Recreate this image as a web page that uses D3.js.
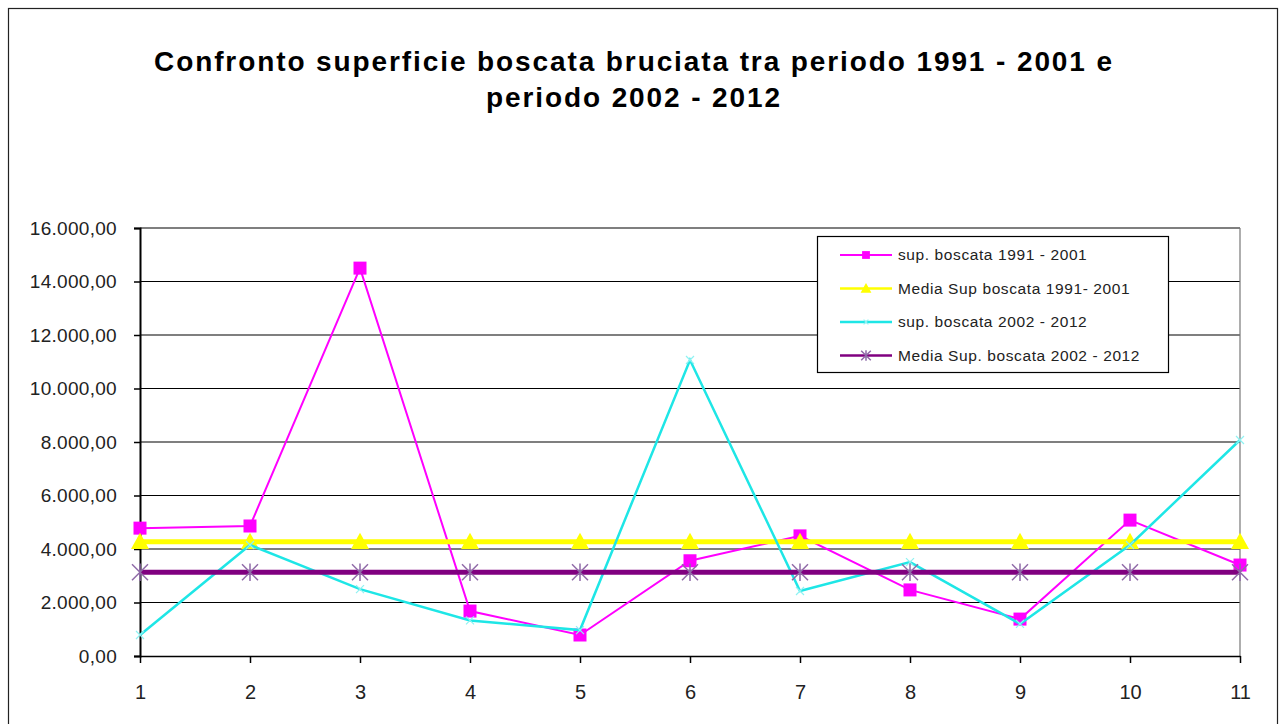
<!DOCTYPE html>
<html>
<head>
<meta charset="utf-8">
<script src="https://cdn.jsdelivr.net/npm/d3@7"></script>
<style>
  html, body { margin: 0; padding: 0; background: #fff; }
  svg { display: block; font-family: Arial, "Liberation Sans", sans-serif; }
</style>
</head>
<body>
<svg id="chart" width="1280" height="724"></svg>
<script>
// Categories (years in each period, numbered 1..11)
const categories = [1, 2, 3, 4, 5, 6, 7, 8, 9, 10, 11];

// Burnt wooded area (ha)
const sup1991_2001 = [4780, 4860, 14500, 1680, 785, 3560, 4490, 2470, 1380, 5080, 3400];
const media1991_2001 = [4270, 4270, 4270, 4270, 4270, 4270, 4270, 4270, 4270, 4270, 4270];
const sup2002_2012 = [785, 4150, 2500, 1330, 970, 11065, 2430, 3510, 1200, 4150, 8075];
const media2002_2012 = [3130, 3130, 3130, 3130, 3130, 3130, 3130, 3130, 3130, 3130, 3130];

const yTicks = [0, 2000, 4000, 6000, 8000, 10000, 12000, 14000, 16000];

const titleLines = [
  "Confronto superficie boscata bruciata tra periodo 1991 - 2001 e",
  "periodo 2002 - 2012"
];

const series = [
  { name: "sup. boscata 1991 - 2001", values: sup1991_2001, color: "#ff00ff", width: 2, marker: "square", markerColor: "#ff00ff" },
  { name: "Media Sup boscata 1991- 2001", values: media1991_2001, color: "#ffff00", width: 5, marker: "triangle", markerColor: "#ffff00" },
  { name: "sup. boscata 2002 - 2012", values: sup2002_2012, color: "#1ee6e6", width: 2.5, marker: "cross", markerColor: "#8ff2f2" },
  { name: "Media Sup. boscata 2002 - 2012", values: media2002_2012, color: "#800080", width: 5, marker: "asterisk", markerColor: "#8f6aa8" }
];

const svg = d3.select("#chart");

// Outer chart frame
svg.append("rect")
  .attr("x", 8.5).attr("y", 8.5)
  .attr("width", 1269).attr("height", 740)
  .attr("fill", "#fff").attr("stroke", "#222").attr("stroke-width", 1.2);

// Title
svg.append("g").selectAll("text").data(titleLines).join("text")
  .attr("x", 634).attr("y", (d, i) => 71 + i * 36)
  .attr("text-anchor", "middle")
  .attr("font-size", 28).attr("font-weight", "bold").attr("fill", "#000")
  .attr("letter-spacing", 1.9)
  .text(d => d);

const plot = { left: 140, right: 1240, top: 228, bottom: 656 };

const x = d3.scalePoint().domain(categories).range([plot.left, plot.right]);
const y = d3.scaleLinear().domain([0, 16000]).range([plot.bottom, plot.top]);

const fmt = v => d3.format(",.2f")(v).replace(/,/g, "#").replace(".", ",").replace(/#/g, ".");

// Gridlines
svg.append("g").selectAll("line").data(yTicks.slice(1)).join("line")
  .attr("x1", plot.left).attr("x2", plot.right)
  .attr("y1", d => y(d)).attr("y2", d => y(d))
  .attr("stroke", "#000").attr("stroke-width", 1.2);

// Right plot border
svg.append("line")
  .attr("x1", plot.right).attr("x2", plot.right)
  .attr("y1", plot.top).attr("y2", plot.bottom)
  .attr("stroke", "#777").attr("stroke-width", 1.2);

// Y axis
const yAxis = svg.append("g")
  .attr("transform", `translate(${plot.left},0)`)
  .call(d3.axisLeft(y).tickValues(yTicks).tickFormat(fmt).tickSize(6).tickPadding(17));
yAxis.select(".domain").attr("stroke", "#000").attr("stroke-width", 2);
yAxis.selectAll(".tick line").attr("stroke", "#000").attr("stroke-width", 1.5);
yAxis.selectAll(".tick text").attr("font-size", 19).attr("fill", "#222")
  .attr("letter-spacing", 0.3)
  .attr("font-family", "Arial, 'Liberation Sans', sans-serif");

// X axis
const xAxis = svg.append("g")
  .attr("transform", `translate(0,${plot.bottom})`)
  .call(d3.axisBottom(x).tickSize(7).tickPadding(22).tickSizeOuter(0));
xAxis.select(".domain").attr("stroke", "#000").attr("stroke-width", 1.5);
xAxis.selectAll(".tick line").attr("stroke", "#000").attr("stroke-width", 1.5);
xAxis.selectAll(".tick text").attr("font-size", 20).attr("fill", "#222")
  .attr("font-family", "Arial, 'Liberation Sans', sans-serif");

// Marker drawing
function drawMarker(g, type, color, cx, cy, scale = 1) {
  if (type === "square") {
    const s = 13 * scale;
    g.append("rect").attr("x", cx - s / 2).attr("y", cy - s / 2)
      .attr("width", s).attr("height", s).attr("fill", color);
  } else if (type === "triangle") {
    const s = 9 * scale;
    g.append("path")
      .attr("d", `M${cx},${cy - s} L${cx + s},${cy + s * 0.8} L${cx - s},${cy + s * 0.8} Z`)
      .attr("fill", color);
  } else if (type === "cross") {
    const s = 4 * scale;
    g.append("path")
      .attr("d", `M${cx - s},${cy - s} L${cx + s},${cy + s} M${cx - s},${cy + s} L${cx + s},${cy - s}`)
      .attr("stroke", color).attr("stroke-width", 1.2).attr("fill", "none");
  } else if (type === "asterisk") {
    const s = 8 * scale;
    g.append("path")
      .attr("d", `M${cx - s},${cy - s} L${cx + s},${cy + s} M${cx - s},${cy + s} L${cx + s},${cy - s} M${cx},${cy - s * 1.1} L${cx},${cy + s * 1.1}`)
      .attr("stroke", color).attr("stroke-width", 1.5).attr("fill", "none");
  }
}

const line = d3.line().x((d, i) => x(categories[i])).y(d => y(d));

// Series drawn in order, later ones on top
series.forEach(s => {
  const g = svg.append("g");
  g.append("path").datum(s.values)
    .attr("d", line).attr("fill", "none")
    .attr("stroke", s.color).attr("stroke-width", s.width)
    .attr("stroke-linejoin", "miter");
  s.values.forEach((v, i) => drawMarker(g, s.marker, s.markerColor, x(categories[i]), y(v)));
});

// Legend
const legend = svg.append("g");
legend.append("rect")
  .attr("x", 817.5).attr("y", 236.5).attr("width", 351).attr("height", 136)
  .attr("fill", "#fff").attr("stroke", "#000").attr("stroke-width", 1.2);
series.forEach((s, i) => {
  const ly = 255 + i * 33.5;
  const lg = legend.append("g");
  lg.append("line").attr("x1", 840).attr("x2", 892).attr("y1", ly).attr("y2", ly)
    .attr("stroke", s.color).attr("stroke-width", Math.min(s.width, 2.5));
  drawMarker(lg, s.marker, s.markerColor, 866, ly, 0.6);
  lg.append("text").attr("x", 898).attr("y", ly + 5)
    .attr("font-size", 15.5).attr("fill", "#222").attr("letter-spacing", 0.6)
    .text(s.name);
});
</script>
</body>
</html>
